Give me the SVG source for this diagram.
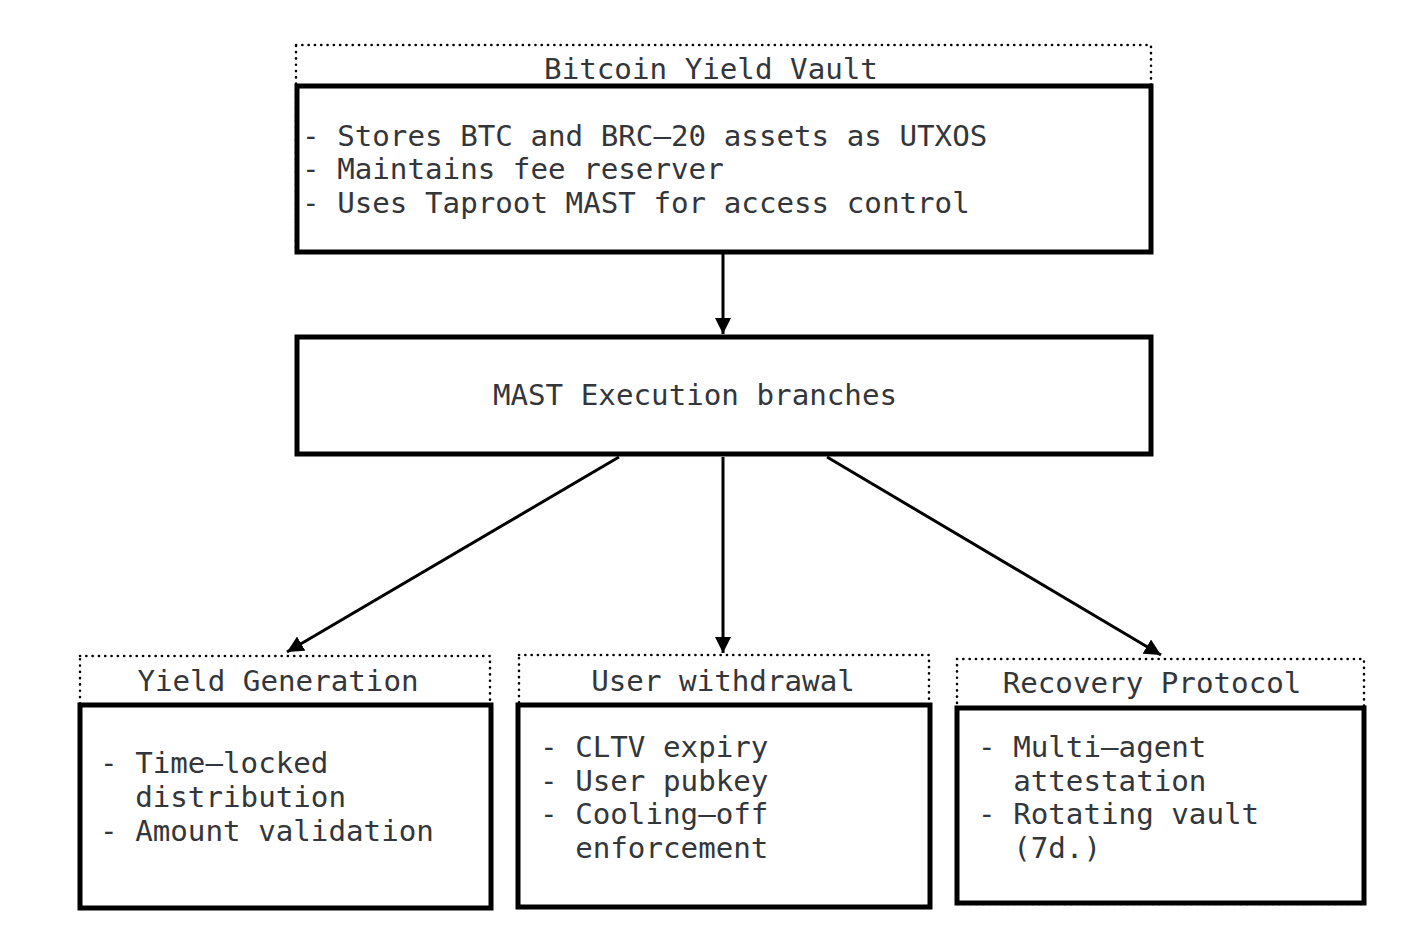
<svg xmlns="http://www.w3.org/2000/svg" width="1414" height="940" viewBox="0 0 1414 940">
<style>
.dot{fill:none;stroke:#000;stroke-width:2.6;stroke-dasharray:0.1 6.2;stroke-linecap:round}
.box{fill:#fff;stroke:#000;stroke-width:5}
.t{font-family:"DejaVu Sans Mono",monospace;font-size:29.2px;fill:#33363b;white-space:pre}
.c{text-anchor:middle}
.edge{stroke:#000;stroke-width:3;fill:none;marker-end:url(#ah)}
</style>
<defs>
<marker id="ah" viewBox="0 0 10 10" refX="10" refY="5" markerWidth="5.5" markerHeight="5.5" orient="auto" markerUnits="strokeWidth">
<path d="M0,0 L10,5 L0,10 z" fill="#000"/>
</marker>
</defs>
<rect width="1414" height="940" fill="#fff"/>
<g id="connectors">
<line class="edge" x1="723" y1="254" x2="723" y2="334"/>
<line class="edge" x1="619" y1="457" x2="287" y2="652"/>
<line class="edge" x1="723" y1="457" x2="723" y2="653"/>
<line class="edge" x1="827" y1="457" x2="1161" y2="655"/>
</g>
<g id="vault">
<rect class="dot" x="296" y="45" width="855" height="207"/>
<text class="t c" x="711" y="79">Bitcoin Yield Vault</text>
<rect class="box" x="297" y="86" width="854" height="166"/>
<text class="t" x="302" y="146">- Stores BTC and BRC–20 assets as UTXOS</text>
<text class="t" x="302" y="179">- Maintains fee reserver</text>
<text class="t" x="302" y="213">- Uses Taproot MAST for access control</text>
</g>
<g id="mast">
<rect class="box" x="297" y="337" width="854" height="117"/>
<text class="t c" x="695" y="405">MAST Execution branches</text>
</g>
<g id="yield">
<rect class="dot" x="80" y="656" width="410" height="250"/>
<text class="t c" x="278" y="691">Yield Generation</text>
<rect class="box" x="80" y="705" width="411" height="203"/>
<text class="t" x="100" y="773">- Time–locked</text>
<text class="t" x="100" y="807">  distribution</text>
<text class="t" x="100" y="841">- Amount validation</text>
</g>
<g id="withdrawal">
<rect class="dot" x="519" y="655" width="410" height="250"/>
<text class="t c" x="723" y="691">User withdrawal</text>
<rect class="box" x="518" y="705" width="412" height="202"/>
<text class="t" x="540" y="757">- CLTV expiry</text>
<text class="t" x="540" y="791">- User pubkey</text>
<text class="t" x="540" y="824">- Cooling–off</text>
<text class="t" x="540" y="858">  enforcement</text>
</g>
<g id="recovery">
<rect class="dot" x="957" y="659" width="407" height="245"/>
<text class="t c" x="1152" y="693">Recovery Protocol</text>
<rect class="box" x="957" y="708" width="407" height="195"/>
<text class="t" x="978" y="757">- Multi–agent</text>
<text class="t" x="978" y="791">  attestation</text>
<text class="t" x="978" y="824">- Rotating vault</text>
<text class="t" x="978" y="858">  (7d.)</text>
</g>
</svg>
